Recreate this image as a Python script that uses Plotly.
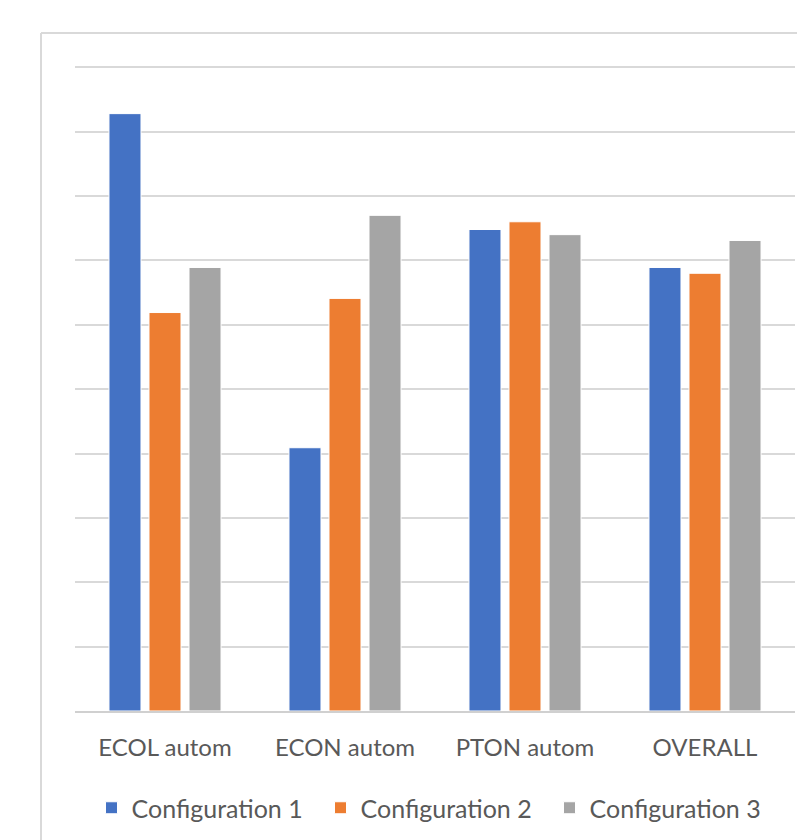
import plotly.graph_objects as go

# Scores per category for each configuration
categories = ["ECOL autom", "ECON autom", "PTON autom", "OVERALL"]
config_1 = [9.28, 4.09, 7.48, 6.89]
config_2 = [6.19, 6.41, 7.60, 6.80]
config_3 = [6.89, 7.70, 7.40, 7.31]
series_names = ["Configuration 1", "Configuration 2", "Configuration 3"]
series_colors = ["#4472C4", "#ED7D31", "#A5A5A5"]

W, H = 797, 840
ML, MR, MT, MB = 75, 2, 66, 129
YMAX = 10.02

fig = go.Figure()
for name, vals, col in zip(series_names, [config_1, config_2, config_3], series_colors):
    fig.add_trace(go.Bar(
        x=categories, y=vals, name=name,
        marker=dict(color=col, line=dict(color="white", width=1)),
    ))

pw = W - ML - MR
ph = H - MT - MB
bx = (41 - ML) / pw
by = 1 + (MT - 33) / ph

fig.update_layout(
    width=W, height=H,
    margin=dict(l=ML, r=MR, t=MT, b=MB),
    paper_bgcolor="white", plot_bgcolor="white",
    barmode="group", bargap=0.333, bargroupgap=0.2,
    font=dict(family="Lato", color="#595959"),
    xaxis=dict(
        showgrid=False, showline=True, linecolor="#D0D0D0", linewidth=2,
        tickfont=dict(size=24, color="#595959"), ticks="",
        ticklabelstandoff=14,
    ),
    yaxis=dict(
        range=[0, YMAX], dtick=1, showticklabels=False,
        showgrid=True, gridcolor="#D9D9D9", gridwidth=2,
        zeroline=False,
    ),
    legend=dict(
        orientation="h", x=0.5, xanchor="center", y=(711 - 808) / ph, yanchor="middle",
        font=dict(size=25, color="#595959"), itemwidth=30,
        entrywidth=184, traceorder="normal",
    ),
    shapes=[
        dict(type="line", xref="paper", yref="paper", x0=bx, x1=1.05, y0=by, y1=by,
             line=dict(color="#D9D9D9", width=2)),
        dict(type="line", xref="paper", yref="paper", x0=bx, x1=bx, y0=by, y1=-0.25,
             line=dict(color="#D9D9D9", width=2)),
    ],
)

fig.write_html("out.html")
